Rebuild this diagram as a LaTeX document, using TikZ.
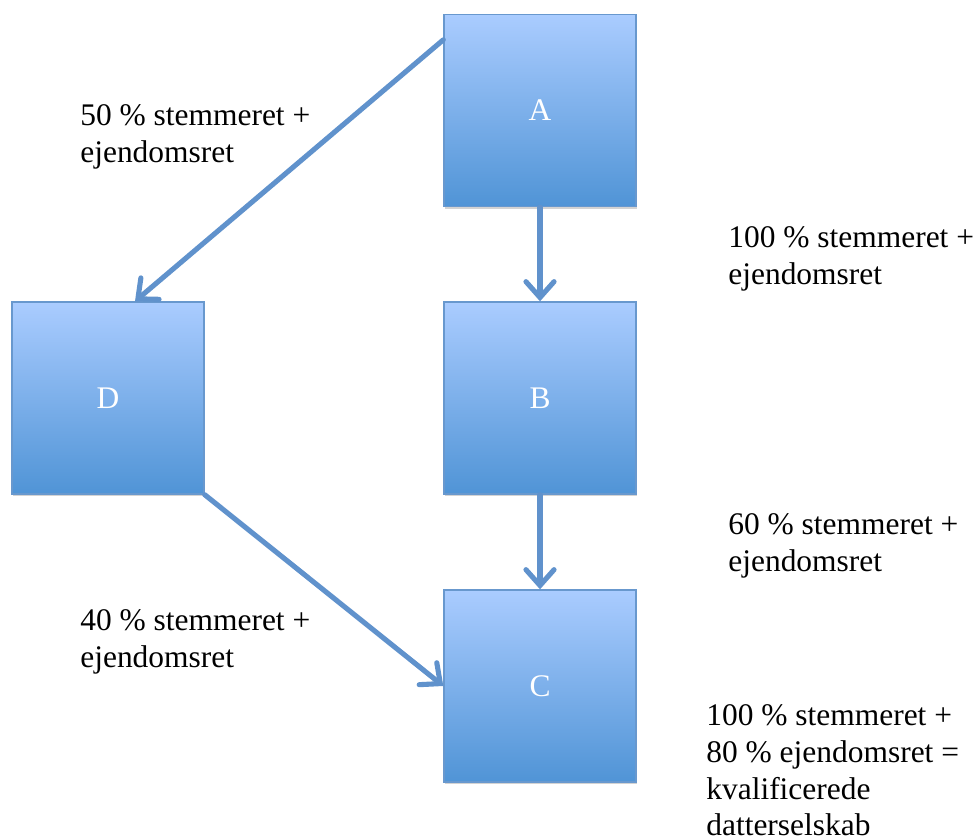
\documentclass[tikz,border=0pt]{standalone}
\usepackage{fontspec}
\setmainfont{Liberation Serif}
\usetikzlibrary{arrows.meta,shadows}
\definecolor{boxtop}{RGB}{170,204,255}
\definecolor{boxbottom}{RGB}{80,148,214}
\definecolor{boxline}{RGB}{104,152,206}
\definecolor{myblue}{RGB}{96,146,204}
\begin{document}
\begin{tikzpicture}[x=0.02cm,y=-0.02cm,
every node/.style={font=\fontsize{17.9}{21}\selectfont},
firm/.style={draw=boxline,line width=0.8pt,top color=boxtop,bottom color=boxbottom,
  minimum width=3.84cm,minimum height=3.84cm,inner sep=0,text=white,
  drop shadow={shadow xshift=0.4pt,shadow yshift=-1.2pt,opacity=0.35}},
own/.style={draw=myblue,line width=2.9pt,line cap=round,
  -{Straight Barb[length=9pt,width=16pt,line cap=round]}},
note/.style={anchor=north west,align=left,inner sep=0}]
\useasboundingbox (0,0) rectangle (980,837);
\node[firm] (A) at (540,110.5) {A};
\node[firm] (B) at (540,398) {B};
\node[firm] (D) at (108,398) {D};
\node[firm] (C) at (540,686) {C};
\draw[own] (A.south) -- (B.north);
\draw[own] (B.south) -- (C.north);
\draw[own] ([yshift=-0.52cm]A.north west) -- ([xshift=0.54cm]D.north);
\draw[own] (D.south east) -- (C.west);
\node[note] (l1) at (80,104) {50 \% stemmeret +\\ejendomsret};
\node[note] (l2) at (728,226) {100 \% stemmeret +\\ejendomsret};
\node[note] (l3) at (728,513) {60 \% stemmeret +\\ejendomsret};
\node[note] (l4) at (80,609) {40 \% stemmeret +\\ejendomsret};
\node[note] (l5) at (706,704) {100 \% stemmeret +\\80 \% ejendomsret =\\kvalificerede\\datterselskab};
\end{tikzpicture}
\end{document}
